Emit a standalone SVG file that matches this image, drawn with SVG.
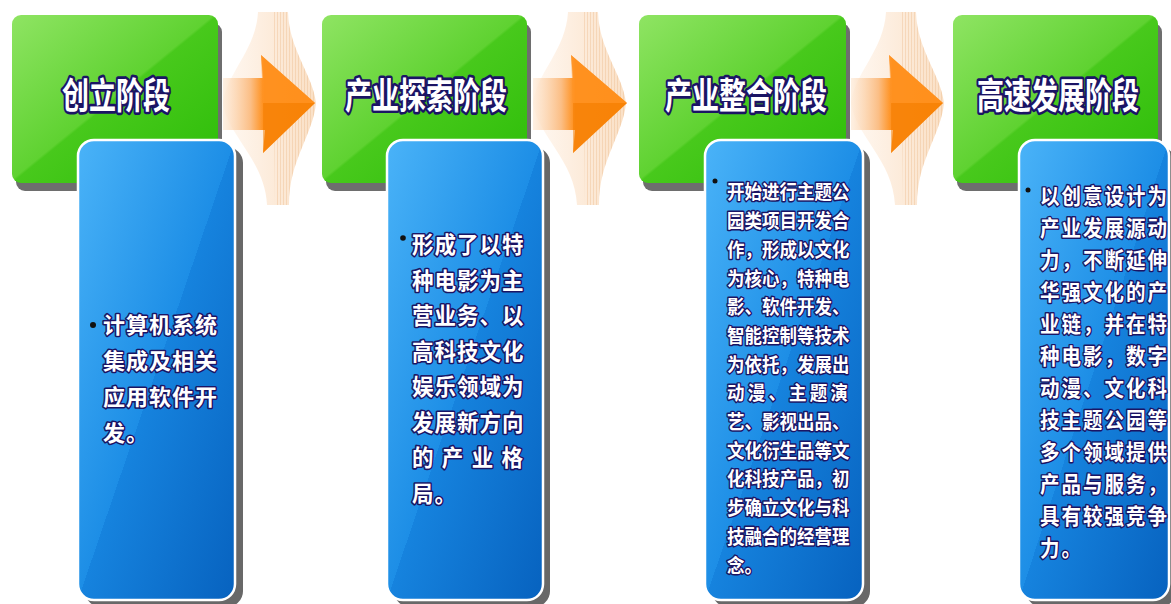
<svg xmlns="http://www.w3.org/2000/svg" width="1171" height="604" viewBox="0 0 1171 604">
<style>
.t{font-family:"Noto Sans CJK SC","Noto Sans",sans-serif;font-weight:700;fill:#fff;stroke:#1b1464;paint-order:stroke;stroke-linejoin:round;dominant-baseline:central}
.title{font-size:27px;stroke-width:4;text-anchor:middle}
.s1{font-size:22px;letter-spacing:1px;stroke-width:3}
.s2{font-size:21.5px;letter-spacing:1px;stroke-width:3}
.s3{font-size:17.5px;stroke-width:2.6}
.s4{font-size:19.5px;letter-spacing:2px;stroke-width:2.6}
.gshadow{fill:#6e6e6e}
.green{fill:url(#gGreen)}
.bshadow{fill:#686868}
.blue{fill:url(#gBlue);stroke:#fff;stroke-width:2.5}
.fan{fill:url(#gFan);opacity:.85}
.stripes{fill:url(#pStripe);opacity:.35}
.arrow{fill:url(#gArrow)}
.headlo{fill:#f27c00}
.headhi{fill:#ff9426}
.dot{fill:#111}
</style>
<defs>
<linearGradient id="gGreen" x1="0" y1="0" x2="1" y2="1">
<stop offset="0" stop-color="#8fe463"/>
<stop offset="0.49" stop-color="#5fd231"/>
<stop offset="0.5" stop-color="#48c91c"/>
<stop offset="1" stop-color="#2bbd07"/>
</linearGradient>
<linearGradient id="gBlue" x1="0" y1="0" x2="1" y2="1">
<stop offset="0" stop-color="#4ab3f8"/>
<stop offset="0.5" stop-color="#1d8ee6"/>
<stop offset="0.5" stop-color="#1683de"/>
<stop offset="1" stop-color="#0762bf"/>
</linearGradient>
<linearGradient id="gFan" x1="0" y1="0" x2="1" y2="0">
<stop offset="0" stop-color="#fff7f0"/>
<stop offset="1" stop-color="#f9dabb"/>
</linearGradient>
<pattern id="pStripe" width="3" height="10" patternUnits="userSpaceOnUse">
<rect x="0" y="0" width="1" height="10" fill="#eab583"/>
</pattern>
<linearGradient id="gArrow" x1="0" y1="0" x2="1" y2="0">
<stop offset="0" stop-color="#fde6d0" stop-opacity="0.6"/>
<stop offset="0.3" stop-color="#fbbe85"/>
<stop offset="0.45" stop-color="#ff8d16"/>
<stop offset="1" stop-color="#ff8a0c"/>
</linearGradient>
</defs>

<g id="connectors">
<g transform="translate(223,0)">
<path class="fan" d="M35 12 L65 12 C66 50 90 75 93 103 C90 135 66 160 66 205 L44 205 C42 160 4 135 0 103 C4 72 33 50 35 12 Z"/>
<path class="stripes" d="M50 12 L65 12 C66 50 90 75 93 103 C90 135 66 160 66 205 L52 205 Z"/>
<path class="arrow" d="M0 78 L40 78 L38 55 L92 103 L40 153 L42 130 L0 130 Z"/>
<path class="headhi" d="M38 55 L92 103 L40 103 Z" opacity="0.6"/>
<path class="headlo" d="M40 103 L92 103 L40 153 Z" opacity="0.5"/>
</g>
<g transform="translate(533,0)">
<path class="fan" d="M35 12 L65 12 C66 50 90 75 93 103 C90 135 66 160 66 205 L44 205 C42 160 4 135 0 103 C4 72 33 50 35 12 Z"/>
<path class="stripes" d="M50 12 L65 12 C66 50 90 75 93 103 C90 135 66 160 66 205 L52 205 Z"/>
<path class="arrow" d="M0 78 L40 78 L38 55 L94 103 L40 153 L42 130 L0 130 Z"/>
<path class="headhi" d="M38 55 L94 103 L40 103 Z" opacity="0.6"/>
<path class="headlo" d="M40 103 L94 103 L40 153 Z" opacity="0.5"/>
</g>
<g transform="translate(851,0)">
<path class="fan" d="M35 12 L65 12 C66 50 90 75 93 103 C90 135 66 160 66 205 L44 205 C42 160 4 135 0 103 C4 72 33 50 35 12 Z"/>
<path class="stripes" d="M50 12 L65 12 C66 50 90 75 93 103 C90 135 66 160 66 205 L52 205 Z"/>
<path class="arrow" d="M0 78 L40 78 L38 55 L92 103 L40 153 L42 130 L0 130 Z"/>
<path class="headhi" d="M38 55 L92 103 L40 103 Z" opacity="0.6"/>
<path class="headlo" d="M40 103 L92 103 L40 153 Z" opacity="0.5"/>
</g>
</g>

<g id="stage1-header">
<rect class="gshadow" x="16" y="23" width="206" height="168" rx="9"/>
<rect class="green" x="12" y="15" width="206" height="168" rx="9"/>
<text class="t title" x="116" y="68.9" transform="scale(1,1.35)">创立阶段</text>
</g>
<g id="stage2-header">
<rect class="gshadow" x="326" y="23" width="205" height="168" rx="9"/>
<rect class="green" x="322" y="15" width="205" height="168" rx="9"/>
<text class="t title" x="426" y="68.9" transform="scale(1,1.35)">产业探索阶段</text>
</g>
<g id="stage3-header">
<rect class="gshadow" x="643" y="23" width="207" height="168" rx="9"/>
<rect class="green" x="639" y="15" width="207" height="168" rx="9"/>
<text class="t title" x="746" y="68.9" transform="scale(1,1.35)">产业整合阶段</text>
</g>
<g id="stage4-header">
<rect class="gshadow" x="957" y="23" width="205" height="168" rx="9"/>
<rect class="green" x="953" y="15" width="205" height="168" rx="9"/>
<text class="t title" x="1058" y="68.9" transform="scale(1,1.35)">高速发展阶段</text>
</g>

<g id="stage1-detail">
<rect class="bshadow" x="85" y="147" width="158" height="460" rx="16"/>
<rect class="blue" x="78" y="140" width="157" height="460" rx="16"/>
<circle class="dot" cx="93" cy="325" r="3"/>
<text class="t s1"><tspan x="103" y="323">计算机系统</tspan><tspan x="103" y="359">集成及相关</tspan><tspan x="103" y="395">应用软件开</tspan><tspan x="103" y="431">发。</tspan></text>
</g>

<g id="stage2-detail">
<rect class="bshadow" x="394" y="147" width="156" height="460" rx="16"/>
<rect class="blue" x="387" y="140" width="156" height="460" rx="16"/>
<circle class="dot" cx="403" cy="238" r="2.8"/>
<text class="t s2" transform="scale(1,1.05)"><tspan x="412" y="231.4">形成了以特</tspan><tspan x="412" y="265.2">种电影为主</tspan><tspan x="412" y="299">营业务、以</tspan><tspan x="412" y="332.9">高科技文化</tspan><tspan x="412" y="366.7">娱乐领域为</tspan><tspan x="412" y="400.5">发展新方向</tspan></text>
<text class="t s2" transform="scale(1,1.05)" x="412" y="434.3" textLength="112" lengthAdjust="spacing">的产业格</text>
<text class="t s2" transform="scale(1,1.05)" x="412" y="468.1">局。</text>
</g>

<g id="stage3-detail">
<rect class="bshadow" x="712" y="147" width="158" height="460" rx="16"/>
<rect class="blue" x="705" y="140" width="158" height="460" rx="16"/>
<circle class="dot" cx="715" cy="181" r="2.5"/>
<text class="t s3" transform="scale(1,1.12)"><tspan x="727" y="169.64">开始进行主题公</tspan><tspan x="727" y="195.27">园类项目开发合</tspan><tspan x="727" y="220.89">作，形成以文化</tspan><tspan x="727" y="246.52">为核心，特种电</tspan><tspan x="727" y="272.14">影、软件开发、</tspan><tspan x="727" y="297.77">智能控制等技术</tspan><tspan x="727" y="323.39">为依托，发展出</tspan></text>
<text class="t s3" transform="scale(1,1.12)" x="727" y="349.02" textLength="121" lengthAdjust="spacing">动漫、主题演</text>
<text class="t s3" transform="scale(1,1.12)"><tspan x="727" y="374.64">艺、影视出品、</tspan><tspan x="727" y="400.27">文化衍生品等文</tspan><tspan x="727" y="425.89">化科技产品，初</tspan><tspan x="727" y="451.52">步确立文化与科</tspan><tspan x="727" y="477.14">技融合的经营理</tspan><tspan x="727" y="502.77">念。</tspan></text>
</g>

<g id="stage4-detail">
<rect class="bshadow" x="1026" y="147" width="150" height="460" rx="16"/>
<rect class="blue" x="1019" y="140" width="150" height="460" rx="16"/>
<circle class="dot" cx="1028" cy="190" r="2.5"/>
<text class="t s4" transform="scale(1,1.1)"><tspan x="1040" y="177.27">以创意设计为</tspan><tspan x="1040" y="206.36">产业发展源动</tspan><tspan x="1040" y="235.45">力，不断延伸</tspan><tspan x="1040" y="264.55">华强文化的产</tspan><tspan x="1040" y="293.64">业链，并在特</tspan><tspan x="1040" y="322.73">种电影，数字</tspan><tspan x="1040" y="351.82">动漫、文化科</tspan><tspan x="1040" y="380.91">技主题公园等</tspan><tspan x="1040" y="410">多个领域提供</tspan><tspan x="1040" y="439.09">产品与服务，</tspan><tspan x="1040" y="468.18">具有较强竞争</tspan><tspan x="1040" y="497.27">力。</tspan></text>
</g>
</svg>
